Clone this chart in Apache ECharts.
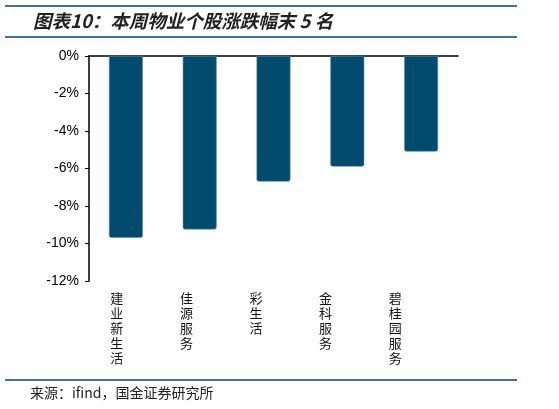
<!DOCTYPE html>
<html>
<head>
<meta charset="utf-8">
<script src="https://cdn.jsdelivr.net/npm/echarts@6/dist/echarts.min.js"></script>
<style>
  html, body { margin: 0; padding: 0; background: #fff; }
  #chart { width: 559px; height: 409px; }
</style>
</head>
<body>
<div id="chart"></div>
<script>
const titleText = '图表10：本周物业个股涨跌幅末 5 名';
const sourceText = '来源：ifind，国金证券研究所';
const categories = ['建业新生活', '佳源服务', '彩生活', '金科服务', '碧桂园服务'];
const changePct = [-9.7, -9.25, -6.7, -5.9, -5.1];

const chart = echarts.init(document.getElementById('chart'));
const lineColor = '#3d7394';
const option = {
  animation: false,
  grid: [
    { left: 89, right: 101, top: 56, bottom: 128 },
    // label-only grid, Excel drew the category labels slightly narrower than the bands
    { left: 82, width: 348, top: 56, bottom: 128 }
  ],
  graphic: [
    { type: 'rect', shape: { x: 5, y: 5, width: 512, height: 2 }, style: { fill: lineColor } },
    { type: 'rect', shape: { x: 5, y: 36, width: 512, height: 2 }, style: { fill: lineColor } },
    { type: 'rect', shape: { x: 5, y: 379, width: 512, height: 2 }, style: { fill: lineColor } },
    { type: 'text', left: 33, top: 12, style: { text: titleText, fontSize: 18.5, fontWeight: 'bold', fontStyle: 'italic', fill: '#222', fontFamily: 'Noto Sans CJK SC' } },
    { type: 'text', left: 30, top: 386, style: { text: sourceText, fontSize: 14, fill: '#222', fontFamily: 'Noto Sans CJK SC' } }
  ],
  xAxis: [
    {
      type: 'category', gridIndex: 0, position: 'top', data: categories,
      axisLine: { lineStyle: { color: '#000', width: 1.5 } },
      axisTick: { inside: true, length: 4, lineStyle: { color: '#000' } },
      axisLabel: { show: false }
    },
    {
      type: 'category', gridIndex: 1, position: 'bottom', data: categories,
      axisLine: { show: false }, axisTick: { show: false },
      axisLabel: {
        interval: 0, margin: 10, fontSize: 13, lineHeight: 15, color: '#111',
        fontFamily: 'Noto Sans CJK SC',
        formatter: v => v.split('').join('\n'),
        verticalAlign: 'top'
      }
    }
  ],
  yAxis: [
    {
      type: 'value', gridIndex: 0, min: -12, max: 0, interval: 2,
      axisLine: { show: true, lineStyle: { color: '#000', width: 1.5 } },
      axisTick: { show: true, length: 4, lineStyle: { color: '#000' } },
      splitLine: { show: false },
      axisLabel: { formatter: '{value}%', fontSize: 14, color: '#000', margin: 10, fontFamily: 'Liberation Sans' }
    },
    { type: 'value', gridIndex: 1, min: -12, max: 0, show: false }
  ],
  series: [
    {
      type: 'bar', xAxisIndex: 0, yAxisIndex: 0, data: changePct,
      barWidth: '46%',
      itemStyle: { color: '#004b6e', borderColor: '#5f8fac', borderWidth: 0.6, borderRadius: [0, 0, 2, 2] }
    }
  ]
};
chart.setOption(option);
</script>
</body>
</html>
